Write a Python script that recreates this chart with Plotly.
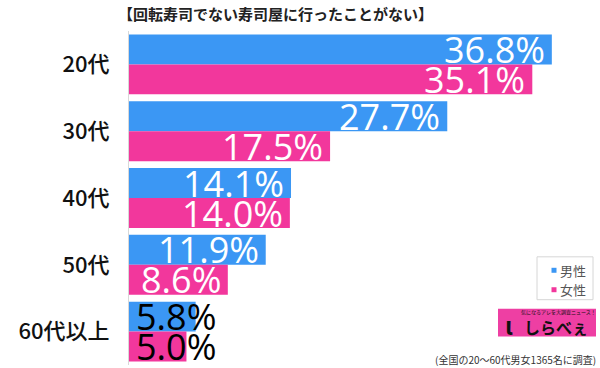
import plotly.graph_objects as go

categories = ["20代", "30代", "40代", "50代", "60代以上"]
male = [36.8, 27.7, 14.1, 11.9, 5.8]
female = [35.1, 17.5, 14.0, 8.6, 5.0]
series_names = ["男性", "女性"]
title_text = "【回転寿司でない寿司屋に行ったことがない】"
note_text = "(全国の20～60代男女1365名に調査)"

W, H = 600, 368
L, R, T, B = 129, 0, 30.5, 2.5
PW, PH = W - L - R, H - T - B

def px(x):
    return (x - L) / PW

def py(y):
    return (H - B - y) / PH

BLUE = "#3b97f4"
PINK = "#f2379c"
FONT = "Noto Sans CJK JP"
NUMFONT = "Open Sans"

fig = go.Figure()
fig.add_trace(go.Bar(y=categories, x=male, name=series_names[0], orientation="h",
                     marker=dict(color=BLUE, line=dict(width=0))))
fig.add_trace(go.Bar(y=categories, x=female, name=series_names[1], orientation="h",
                     marker=dict(color=PINK, line=dict(width=0))))

annotations = []
for vals, shift in ((male, 15), (female, -15)):
    for c, v in zip(categories, vals):
        txt = f"{v:.1f}%"
        if v < 7:
            annotations.append(dict(x=0, y=c, xref="x", yref="y", text=txt, showarrow=False,
                                    xanchor="left", yanchor="middle", xshift=5, yshift=shift,
                                    font=dict(family=NUMFONT, size=36, color="#000")))
        else:
            annotations.append(dict(x=v, y=c, xref="x", yref="y", text=txt, showarrow=False,
                                    xanchor="right", yanchor="middle", xshift=-5, yshift=shift,
                                    font=dict(family=NUMFONT, size=36, color="#fff")))

annotations.append(dict(x=px(116), y=py(13), xref="paper", yref="paper", text=title_text,
                        showarrow=False, xanchor="left", yanchor="middle",
                        font=dict(family=FONT, size=15, color="#222", weight=600)))
annotations.append(dict(x=px(598), y=py(360), xref="paper", yref="paper", text=note_text,
                        showarrow=False, xanchor="right", yanchor="middle",
                        font=dict(family=FONT, size=10, color="#333")))

# legend (drawn manually to match the compact box)
shapes = [dict(type="rect", xref="paper", yref="paper", x0=px(537), x1=px(593),
               y0=py(300), y1=py(257), fillcolor="white",
               line=dict(color="#d6d6d6", width=1))]
for i, (name, col) in enumerate(zip(series_names, [BLUE, PINK])):
    yc = 270.5 + 19.5 * i
    shapes.append(dict(type="rect", xref="paper", yref="paper", x0=px(551.5), x1=px(556.5),
                       y0=py(yc + 2.5), y1=py(yc - 2.5), fillcolor=col, line=dict(width=0)))
    annotations.append(dict(x=px(557.5), y=py(yc), xref="paper", yref="paper", text=name,
                            showarrow=False, xanchor="left", yanchor="middle",
                            font=dict(family=FONT, size=13, color="#555")))

# logo
shapes.append(dict(type="rect", xref="paper", yref="paper", x0=px(498), x1=px(596),
                   y0=py(337), y1=py(309), fillcolor="#ee3fa3", line=dict(width=0)))
annotations.append(dict(x=px(556), y=py(327), xref="paper", yref="paper", text="<b>しらべぇ</b>",
                        showarrow=False, xanchor="center", yanchor="middle",
                        font=dict(family=FONT, size=16, color="#111")))
annotations.append(dict(x=px(509), y=py(325), xref="paper", yref="paper", text="<b>ι</b>",
                        showarrow=False, xanchor="center", yanchor="middle",
                        font=dict(family=FONT, size=24, color="#111")))
annotations.append(dict(x=px(558), y=py(312.5), xref="paper", yref="paper",
                        text="気になるアレを大調査ニュース！",
                        showarrow=False, xanchor="center", yanchor="middle",
                        font=dict(family=FONT, size=5, color="#111")))

fig.update_layout(
    width=W, height=H,
    margin=dict(l=L, r=R, t=T, b=B, pad=0, autoexpand=False),
    paper_bgcolor="white", plot_bgcolor="white",
    barmode="group", bargap=0.104, bargroupgap=0,
    showlegend=False,
    xaxis=dict(range=[0, PW / 11.49], visible=False, fixedrange=True),
    yaxis=dict(range=[len(categories) - 0.5, -0.5], showline=True, linecolor="#d8d8d8",
               linewidth=1, ticks="", showgrid=False, ticklabelstandoff=14, automargin=False,
               tickfont=dict(family=FONT, size=22, color="#111", weight=500)),
    annotations=annotations,
    shapes=shapes,
    font=dict(family=FONT),
)

fig.write_html("out.html", config={"displayModeBar": False},
               post_script="document.body.style.margin='0';document.body.style.overflow='hidden';")
